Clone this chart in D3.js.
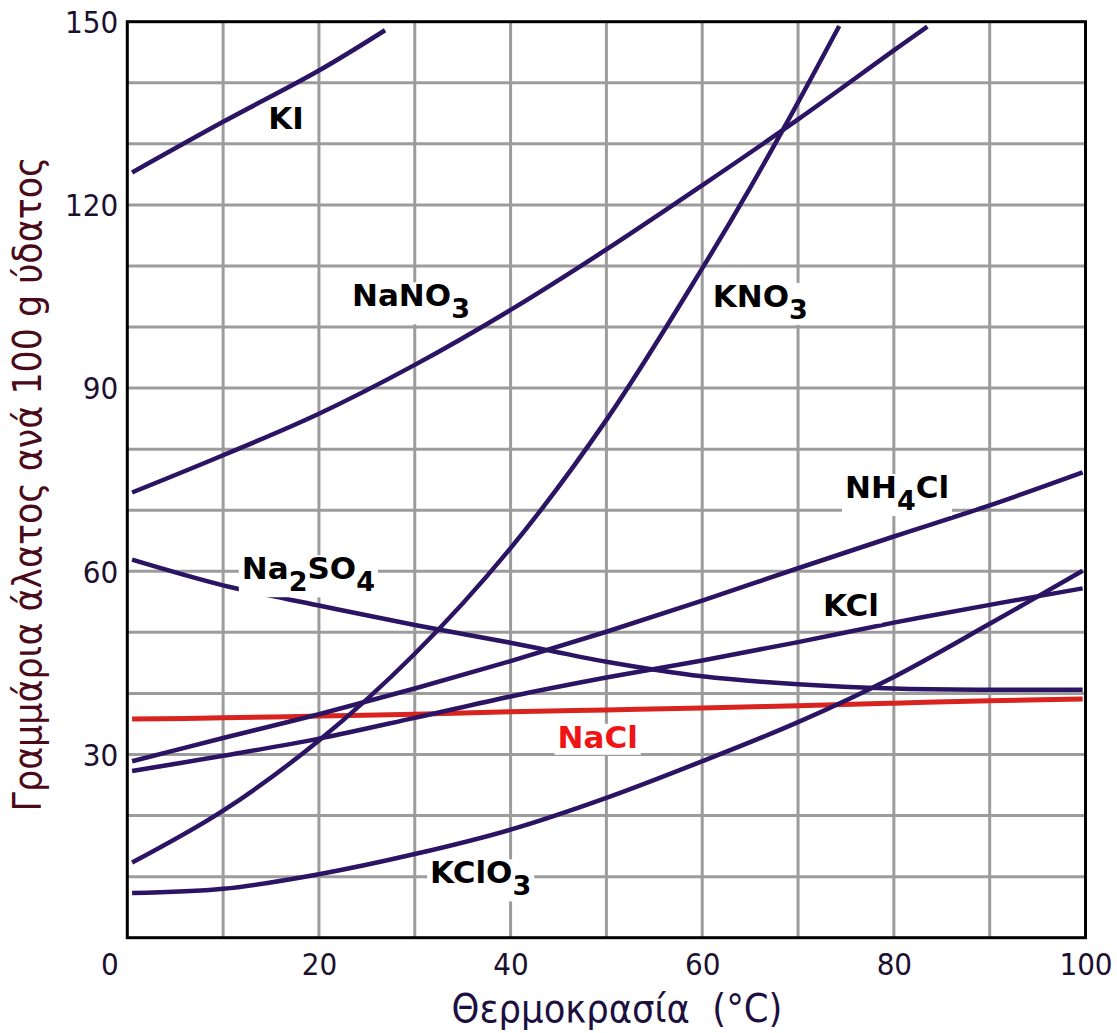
<!DOCTYPE html>
<html><head><meta charset="utf-8">
<script src="https://cdn.jsdelivr.net/npm/d3@7"></script>
<style>body{margin:0;background:#fff}svg{display:block}</style>
</head><body>
<svg id="c" width="1117" height="1033"></svg>
<script>
// ---- data ----
const temps = [0.5, 10, 20, 30, 40, 50, 60, 70, 80, 90, 99.7];
const KI_T = [0.5, 10, 20, 26.9];
const KI_V = [125.3, 133.6, 142.0, 148.6];
const NaNO3_T = [0.5, 10, 20, 30, 40, 50, 60, 70, 80, 83.5];
const NaNO3_V = [72.9, 79.0, 85.8, 93.8, 102.8, 112.7, 123.2, 134.0, 145.3, 149.2];
const KNO3_T = [0.5, 10, 20, 30, 40, 50, 60, 65, 70, 74.3];
const KNO3_V = [12.3, 20.8, 32.3, 46.5, 63.8, 84.8, 109.6, 122.8, 136.8, 149.3];
const Na2SO4_V = [61.9, 57.7, 54.4, 51.2, 48.3, 45.2, 42.8, 41.5, 40.8, 40.6, 40.6];
const NH4Cl_V  = [28.9, 32.7, 36.6, 40.8, 45.3, 50.1, 55.2, 60.5, 65.7, 70.8, 76.2];
const KCl_V    = [27.3, 29.8, 32.6, 36.0, 39.5, 42.6, 45.4, 48.4, 51.6, 54.5, 57.2];
const KClO3_V  = [7.3, 8.0, 10.4, 13.7, 17.7, 22.9, 28.9, 35.3, 42.7, 51.4, 60.1];
const NaCl_V   = [35.8, 36.0, 36.3, 36.6, 37.0, 37.3, 37.6, 38.0, 38.4, 38.8, 39.1];

const xTicks = [0, 20, 40, 60, 80, 100];
const yTicks = [30, 60, 90, 120, 150];
const xTitle = "Θερμοκρασία  (°C)";
const yTitle = "Γραμμάρια άλατος ανά 100 g ύδατος";

// label names (text parts, subscript flag) and their anchor in data units (T, grams)
const labelNames = ["KI", "NaNO3", "KNO3", "NH4Cl", "KCl", "Na2SO4", "NaCl", "KClO3"];
const labelParts = [
  [["KI", 0]],
  [["NaNO", 0], ["3", 1]],
  [["KNO", 0], ["3", 1]],
  [["NH", 0], ["4", 1], ["Cl", 0]],
  [["KCl", 0]],
  [["Na", 0], ["2", 1], ["SO", 0], ["4", 1]],
  [["NaCl", 0]],
  [["KClO", 0], ["3", 1]]
];
const labelT = [14.7, 23.45, 61.1, 74.9, 72.6, 11.95, 44.9, 31.6];
const labelG = [132.5, 103.4, 103.3, 72.0, 52.6, 58.7, 31.1, 8.9];

// ---- build ----
const svg = d3.select("#c");
const x = d3.scaleLinear().domain([0, 100]).range([127.3, 1085.5]);
const y = d3.scaleLinear().domain([0, 150]).range([937.7, 21.7]);

const curveColor = "#2a1463";
const series = [
  {T: KI_T, V: KI_V, c: curveColor, w: 4.5},
  {T: NaNO3_T, V: NaNO3_V, c: curveColor, w: 4.5},
  {T: KNO3_T, V: KNO3_V, c: curveColor, w: 4.5},
  {T: temps, V: Na2SO4_V, c: curveColor, w: 4.5},
  {T: temps, V: NH4Cl_V, c: curveColor, w: 4.5},
  {T: temps, V: KCl_V, c: curveColor, w: 4.5},
  {T: temps, V: KClO3_V, c: curveColor, w: 4.5},
  {T: temps, V: NaCl_V, c: "#d9231f", w: 5}
];

// grid
const grid = svg.append("g").attr("stroke", "#9c9c9c").attr("stroke-width", 3);
grid.selectAll("line.v").data(d3.range(10, 100, 10)).join("line")
  .attr("x1", d => x(d)).attr("x2", d => x(d)).attr("y1", y(150)).attr("y2", y(0));
grid.selectAll("line.h").data(d3.range(10, 150, 10)).join("line")
  .attr("y1", d => y(d)).attr("y2", d => y(d)).attr("x1", x(0)).attr("x2", x(100));

// curves (NaCl first, purple curves over it)
const line = d3.line().x(d => x(d[0])).y(d => y(d[1])).curve(d3.curveCatmullRom.alpha(0.5));
const order = [7, 0, 1, 2, 3, 4, 5, 6];
svg.append("g").selectAll("path").data(order.map(i => series[i])).join("path")
  .attr("d", s => line(s.T.map((t, i) => [t, s.V[i]])))
  .attr("fill", "none").attr("stroke", s => s.c).attr("stroke-width", s => s.w);

// frame
svg.append("rect").attr("x", x(0)).attr("y", y(150))
  .attr("width", x(100) - x(0)).attr("height", y(0) - y(150))
  .attr("fill", "none").attr("stroke", "#000").attr("stroke-width", 3);

const tickFont = "'DejaVu Sans Condensed', 'Liberation Sans', sans-serif";
// y axis
const ya = svg.append("g").attr("transform", `translate(${x(0)},0)`)
  .call(d3.axisLeft(y).tickValues(yTicks).tickSize(0).tickPadding(9));
ya.select(".domain").remove();
ya.selectAll("text").attr("font-size", 31).attr("font-family", tickFont)
  .attr("fill", "#1c1030").attr("dy", "0.35em");

// x axis
const xa = svg.append("g").attr("transform", `translate(0,${y(0)})`)
  .call(d3.axisBottom(x).tickValues(xTicks).tickSize(0).tickPadding(15));
xa.select(".domain").remove();
xa.selectAll("text").attr("font-size", 31).attr("font-family", tickFont)
  .attr("fill", "#1c1030").attr("dy", "0.71em");
xa.selectAll(".tick").filter(d => d === 0).select("text")
  .attr("text-anchor", "end").attr("x", -9);

// axis titles
const xt = svg.append("text").attr("x", 617).attr("y", 1022)
  .attr("text-anchor", "middle").attr("font-family", tickFont)
  .attr("font-size", 34).attr("fill", "#1c1040").style("white-space", "pre").text(xTitle);
let L = xt.node().getComputedTextLength();
xt.attr("font-size", 34 * 331 / L);

const yt = svg.append("text").attr("transform", "translate(41,484) rotate(-90)")
  .attr("text-anchor", "middle").attr("font-family", tickFont)
  .attr("font-size", 31).attr("fill", "#4a0a1a").text(yTitle);
L = yt.node().getComputedTextLength();
yt.attr("font-size", 31 * 655 / L);

// curve labels with white backing boxes
const lab = svg.append("g");
labelNames.forEach((name, i) => {
  const g = lab.append("g");
  const t = g.append("text").attr("x", x(labelT[i])).attr("y", y(labelG[i]))
    .attr("font-family", "'DejaVu Sans', Verdana, sans-serif").attr("font-weight", "bold")
    .attr("font-size", 31).attr("fill", name === "NaCl" ? "#f01414" : "#000");
  labelParts[i].forEach(([txt, sub], k) => {
    t.append("tspan").text(txt)
      .attr("font-size", sub ? 27 : 31)
      .attr("dy", sub ? 12 : (k > 0 ? -12 : 0));
  });
  const b = t.node().getBBox();
  g.insert("rect", "text").attr("x", b.x - 3).attr("y", b.y + 5)
    .attr("width", b.width + 6).attr("height", b.height - 5).attr("fill", "#fff");
});
</script>
</body></html>
